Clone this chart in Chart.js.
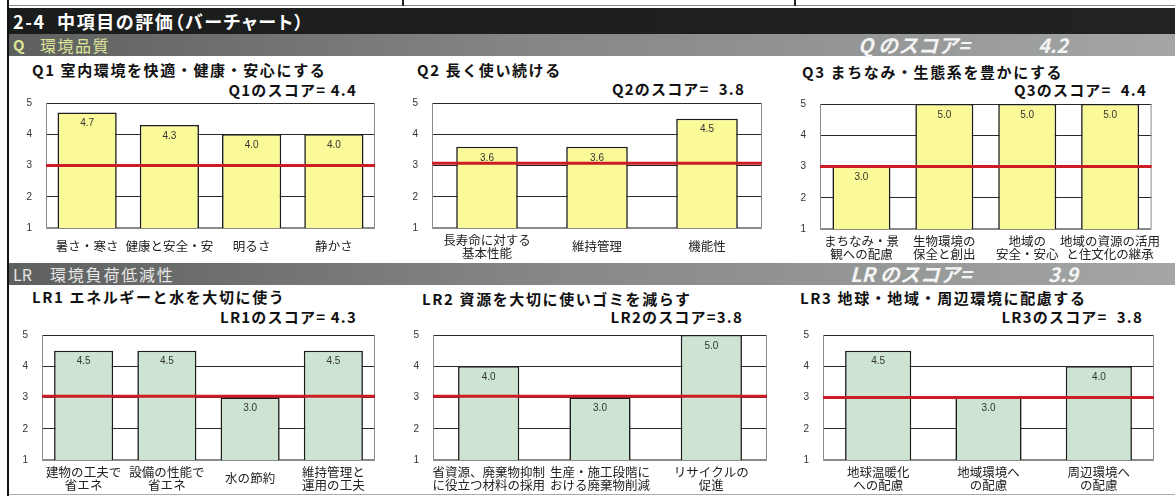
<!DOCTYPE html>
<html><head><meta charset="utf-8">
<script src="https://cdn.jsdelivr.net/npm/chart.js@4.4.1/dist/chart.umd.min.js"></script>
<style>
html,body{margin:0;padding:0;background:#fff;width:1175px;height:496px;overflow:hidden;}
body{position:relative;font-family:"Noto Sans CJK JP","Noto Sans",sans-serif;}
.abs{position:absolute;white-space:pre;}
canvas{position:absolute;}
</style></head><body>
<script>
// ---------- data ----------
const headerTitle = '2-4  中項目の評価（バーチャート）';
const sectionNames = ['Q', '環境品質', 'LR', '環境負荷低減性'];
const sectionScoreLabels = ['Q のスコア=', 'LR のスコア='];
const sectionScores = [4.2, 3.9];

const panelTitles = ['Q1 室内環境を快適・健康・安心にする', 'Q2 長く使い続ける', 'Q3 まちなみ・生態系を豊かにする',
                     'LR1 エネルギーと水を大切に使う', 'LR2 資源を大切に使いゴミを減らす', 'LR3 地球・地域・周辺環境に配慮する'];
const scorePrefixes = ['Q1のスコア= ', 'Q2のスコア=  ', 'Q3のスコア=  ', 'LR1のスコア= ', 'LR2のスコア=', 'LR3のスコア=  '];
const panelScores = [4.4, 3.8, 4.4, 4.3, 3.8, 3.8];

const q1Labels = ['暑さ・寒さ', '健康と安全・安', '明るさ', '静かさ'];
const q1Values = [4.7, 4.3, 4.0, 4.0];
const q2Labels = [['長寿命に対する', '基本性能'], '維持管理', '機能性'];
const q2Values = [3.6, 3.6, 4.5];
const q3Labels = [['まちなみ・景', '観への配慮'], ['生物環境の', '保全と創出'], ['地域の', '安全・安心'], ['地域の資源の活用', 'と住文化の継承']];
const q3Values = [3.0, 5.0, 5.0, 5.0];
const lr1Labels = [['建物の工夫で', '省エネ'], ['設備の性能で', '省エネ'], '水の節約', ['維持管理と', '運用の工夫']];
const lr1Values = [4.5, 4.5, 3.0, 4.5];
const lr2Labels = [['省資源、廃棄物抑制', 'に役立つ材料の採用'], ['生産・施工段階に', 'おける廃棄物削減'], ['リサイクルの', '促進']];
const lr2Values = [4.0, 3.0, 5.0];
const lr3Labels = [['地球温暖化', 'への配慮'], ['地域環境へ', 'の配慮'], ['周辺環境へ', 'の配慮']];
const lr3Values = [4.5, 3.0, 4.0];

const yTicks = [1, 2, 3, 4, 5];
const referenceLevel = [3.0, 3.07, 3.0, 3.04, 3.04, 3.0];

// ---------- layout / style ----------
const YELLOW = '#fafa99', GREEN = '#cde4d2';
const FONT_JP = '"Noto Sans CJK JP", sans-serif';

function box(l, t, w, h, bg) {
  const d = document.createElement('div');
  d.className = 'abs';
  Object.assign(d.style, {left: l + 'px', top: t + 'px', width: w + 'px', height: h + 'px', background: bg});
  document.body.appendChild(d);
  return d;
}
function text(str, o) {
  const d = document.createElement('div');
  d.className = 'abs';
  d.textContent = str;
  const lh = o.lh || 24;
  d.style.top = (o.cy - lh / 2) + 'px';
  d.style.lineHeight = lh + 'px';
  if (o.left !== undefined) d.style.left = o.left + 'px';
  if (o.right !== undefined) d.style.right = (1175 - o.right) + 'px';
  d.style.fontSize = o.size + 'px';
  d.style.fontWeight = o.weight || 'normal';
  d.style.color = o.color || '#111';
  if (o.italic) d.style.fontStyle = 'italic';
  if (o.ls) d.style.letterSpacing = o.ls + 'px';
  if (o.palt) d.style.fontFeatureSettings = '"palt"';
  document.body.appendChild(d);
  return d;
}

// frame lines
box(7, 0, 2, 496, '#111');
box(9, 5, 1166, 1, '#888');
box(402, 0, 2, 6, '#222');
box(794, 0, 2, 6, '#222');
box(9, 494, 1166, 1, '#aaa');
// header bars
box(9, 8, 1166, 26, 'linear-gradient(90deg,#1a1d1b,#202322)');
box(9, 34, 1166, 22, 'linear-gradient(90deg,#5e605f 0%,#858786 45%,#a4a6a5 100%)');
box(9, 263, 1166, 22, 'linear-gradient(90deg,#5e605f 0%,#858786 45%,#a4a6a5 100%)');

text(headerTitle, {left: 13, cy: 21, size: 18, weight: 'bold', color: '#fff', palt: true, ls: 1.6});
text(sectionNames[0], {left: 13, cy: 45, size: 15, weight: 'bold', color: '#dfe597'});
text(sectionNames[1], {left: 40, cy: 45, size: 16, color: '#dfe597', ls: 1.5});
text(sectionNames[2], {left: 13, cy: 274, size: 16, color: '#e6e6e6'});
text(sectionNames[3], {left: 50, cy: 274, size: 16, color: '#e6e6e6', ls: 1.8});
text(sectionScoreLabels[0], {left: 858, cy: 45, size: 20, weight: 'bold', color: '#f4f4f4', italic: true});
text(sectionScores[0].toFixed(1), {left: 1038, cy: 45, size: 20, weight: 'bold', color: '#f4f4f4', italic: true});
text(sectionScoreLabels[1], {left: 850, cy: 274, size: 20, weight: 'bold', color: '#f4f4f4', italic: true});
text(sectionScores[1].toFixed(1), {left: 1048, cy: 274, size: 20, weight: 'bold', color: '#f4f4f4', italic: true});

// panel geometry: plot area rectangles
const panels = [
  {labels: q1Labels, values: q1Values, color: YELLOW, plot: [46, 103, 375, 228], canvasRight: 390, bar: 0.72, xPad: 18, titleX: 32, titleY: 70, scoreR: 357, scoreY: 90},
  {labels: q2Labels, values: q2Values, color: YELLOW, plot: [432, 103, 762, 228], canvasRight: 785, bar: 0.56, xPad: 12, titleX: 417, titleY: 70, scoreR: 745, scoreY: 89},
  {labels: q3Labels, values: q3Values, color: YELLOW, plot: [820, 104, 1152, 229], canvasRight: 1175, bar: 0.70, xPad: 12, titleX: 802, titleY: 72, scoreR: 1147, scoreY: 90},
  {labels: lr1Labels, values: lr1Values, color: GREEN, plot: [42, 335, 375, 460], canvasRight: 390, bar: 0.71, xPad: 12, titleX: 32, titleY: 297, scoreR: 357, scoreY: 317},
  {labels: lr2Labels, values: lr2Values, color: GREEN, plot: [433, 335, 767, 460], canvasRight: 785, bar: 0.55, xPad: 12, titleX: 422, titleY: 299, scoreR: 743, scoreY: 317},
  {labels: lr3Labels, values: lr3Values, color: GREEN, plot: [823, 335, 1154, 460], canvasRight: 1175, bar: 0.60, xPad: 12, titleX: 800, titleY: 298, scoreR: 1143, scoreY: 317}
];

const Y_AXIS_W = 26, PAD_TOP = 22, X_AXIS_H = 36, Y_TICK_PAD = 14;

const framePlugin = {
  id: 'frame',
  beforeDatasetsDraw(chart) {
    const {ctx, chartArea: a} = chart;
    ctx.save();
    ctx.strokeStyle = '#8a8a8a';
    ctx.lineWidth = 1;
    ctx.beginPath();
    ctx.moveTo(a.left + 0.5, a.top);
    ctx.lineTo(a.left + 0.5, a.bottom - 0.5);
    ctx.lineTo(a.right - 0.5, a.bottom - 0.5);
    ctx.lineTo(a.right - 0.5, a.top);
    ctx.stroke();
    ctx.restore();
  }
};
const labelAndLinePlugin = {
  id: 'labelAndLine',
  afterDatasetsDraw(chart, args, opts) {
    const {ctx, chartArea: a} = chart;
    const meta = chart.getDatasetMeta(0);
    const vals = chart.data.datasets[0].data;
    ctx.save();
    ctx.fillStyle = '#333';
    ctx.font = '10px "Liberation Sans", Arial, sans-serif';
    ctx.textAlign = 'center';
    ctx.textBaseline = 'middle';
    meta.data.forEach((bar, i) => {
      ctx.fillText(vals[i].toFixed(1), bar.x, bar.y + 11);
    });
    const y = chart.scales.y.getPixelForValue(opts.level);
    ctx.strokeStyle = '#cc1c26';
    ctx.lineWidth = 3;
    ctx.beginPath();
    ctx.moveTo(a.left, y);
    ctx.lineTo(a.right, y);
    ctx.stroke();
    ctx.restore();
  }
};

panels.forEach((p, idx) => {
  const [pl, pt, pr, pb] = p.plot;
  const cLeft = pl - Y_AXIS_W;
  const cTop = pt - PAD_TOP;
  const cW = p.canvasRight - cLeft;
  const cH = PAD_TOP + (pb - pt) + X_AXIS_H;
  const padR = p.canvasRight - pr;

  text(panelTitles[idx], {left: p.titleX, cy: p.titleY, size: 15, weight: 'bold', color: '#111', ls: 1.6});
  text(scorePrefixes[idx] + panelScores[idx].toFixed(1), {right: p.scoreR, cy: p.scoreY, size: 15, weight: 'bold', color: '#111', ls: 1.2});

  const cv = document.createElement('canvas');
  cv.width = cW; cv.height = cH;
  cv.style.left = cLeft + 'px'; cv.style.top = cTop + 'px';
  cv.style.width = cW + 'px'; cv.style.height = cH + 'px';
  document.body.appendChild(cv);

  new Chart(cv, {
    type: 'bar',
    data: {
      labels: p.labels,
      datasets: [{data: p.values, backgroundColor: p.color, borderColor: '#1c1c1c', borderWidth: 1.6,
                  barPercentage: p.bar, categoryPercentage: 1}]
    },
    options: {
      responsive: false, animation: false, devicePixelRatio: 1,
      layout: {padding: {left: 0, top: PAD_TOP, right: padR, bottom: 0}},
      plugins: {legend: {display: false}, tooltip: {enabled: false}, title: {display: false},
                labelAndLine: {level: referenceLevel[idx]}},
      scales: {
        x: {
          grid: {display: false, drawTicks: false}, border: {display: false},
          ticks: {autoSkip: false, maxRotation: 0, minRotation: 0, padding: p.xPad, crossAlign: 'center',
                  color: '#222', font: {family: FONT_JP, size: 12.5, lineHeight: 1.02}},
          afterFit(s) { s.height = X_AXIS_H; }
        },
        y: {
          min: 1, max: 5,
          afterBuildTicks(s) { s.ticks = yTicks.map(v => ({value: v})); },
          grid: {drawTicks: false, lineWidth: 1, color: c => (c.tick && c.tick.value === 1) ? '#8a8a8a' : '#2a2a2a'},
          border: {display: false},
          ticks: {padding: Y_TICK_PAD, color: '#333', font: {family: '"Liberation Sans", Arial, sans-serif', size: 10}},
          afterFit(s) { s.width = Y_AXIS_W; }
        }
      }
    },
    plugins: [framePlugin, labelAndLinePlugin]
  });
});
</script>
</body></html>
